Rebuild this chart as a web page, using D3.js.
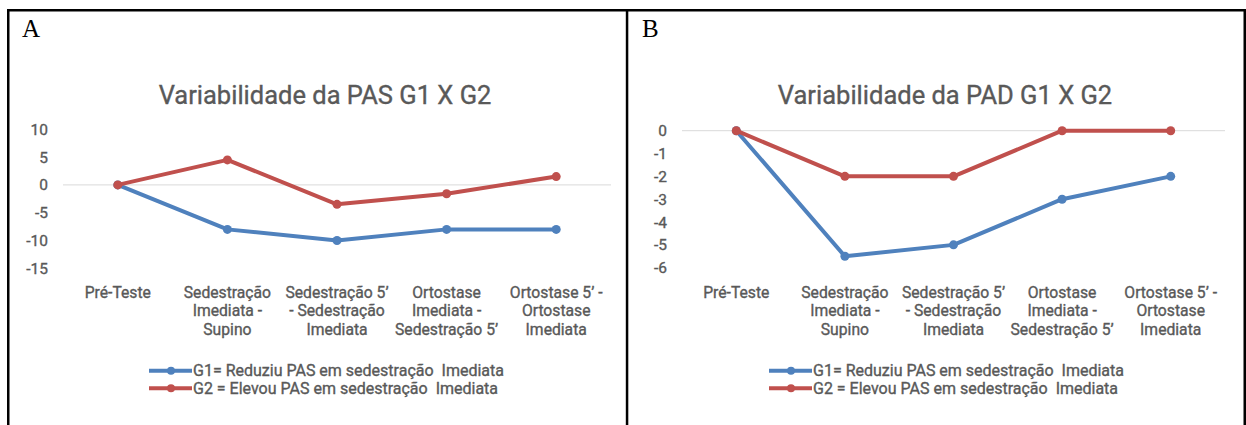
<!DOCTYPE html>
<html>
<head>
<meta charset="utf-8">
<script src="https://cdn.jsdelivr.net/npm/d3@7"></script>
<style>
  body { margin: 0; background: #fff; }
  svg { display: block; }
  text { font-family: Roboto, "Noto Sans", sans-serif; fill: #595959; }
  .chartText { stroke: #595959; stroke-width: 0.35px; }
</style>
</head>
<body>
<div id="chart"></div>
<script>
// categories (multi-line labels, as in the Excel charts)
var categories = [
  ["Pré-Teste"],
  ["Sedestração", "Imediata -", "Supino"],
  ["Sedestração 5’", "- Sedestração", "Imediata"],
  ["Ortostase", "Imediata -", "Sedestração 5’"],
  ["Ortostase 5’ -", "Ortostase", "Imediata"]
];
var seriesNames = [
  "G1= Reduziu PAS em sedestração  Imediata",
  "G2 = Elevou PAS em sedestração  Imediata"
];
var seriesColors = ["#4F81BD", "#C0504D"];

// panel A - PAS
var pasG1 = [0, -8, -10, -8, -8];
var pasG2 = [0, 4.5, -3.5, -1.6, 1.5];
var pasTicks = [10, 5, 0, -5, -10, -15];

// panel B - PAD
var padG1 = [0, -5.5, -5, -3, -2];
var padG2 = [0, -2, -2, 0, 0];
var padTicks = [0, -1, -2, -3, -4, -5, -6];

var width = 1246, height = 425;

var svg = d3.select("#chart")
  .append("svg")
  .attr("width", width)
  .attr("height", height);

// table borders (no bottom line, cut off in the source)
svg.append("rect").attr("x", 7).attr("y", 9).attr("width", 1239).attr("height", 2.5).attr("fill", "#000");
svg.append("rect").attr("x", 7).attr("y", 9).attr("width", 2.5).attr("height", 416).attr("fill", "#000");
svg.append("rect").attr("x", 625.8).attr("y", 9).attr("width", 2.5).attr("height", 416).attr("fill", "#000");
svg.append("rect").attr("x", 1243.5).attr("y", 9).attr("width", 2.5).attr("height", 416).attr("fill", "#000");

function drawPanel(px, letter, title, g1, g2, ticks, xRange, yRange) {
  var g = svg.append("g");

  g.append("text")
    .attr("x", px + 15)
    .attr("y", 36.5)
    .style("font-family", "'Liberation Serif', 'Times New Roman', serif")
    .style("font-size", "25px")
    .style("fill", "#000")
    .text(letter);

  g.append("text")
    .attr("class", "chartText")
    .attr("x", px + 318)
    .attr("y", 104)
    .attr("text-anchor", "middle")
    .style("font-size", "25.5px")
    .text(title);

  var x = d3.scaleBand()
    .domain(d3.range(categories.length))
    .range(xRange);

  var y = d3.scaleLinear()
    .domain([d3.min(ticks), d3.max(ticks)])
    .range(yRange);

  // y labels (plain hyphen, no decimals)
  var yAxis = g.append("g")
    .attr("transform", "translate(" + (xRange[0] - 15) + ",0)")
    .call(d3.axisLeft(y).tickValues(ticks).tickSize(0).tickPadding(0)
      .tickFormat(function(d) { return String(d); }));
  yAxis.select(".domain").remove();
  yAxis.selectAll("text")
    .attr("class", "chartText")
    .style("font-size", "15.5px")
    .style("fill", "#595959")
    .style("font-family", "Roboto, sans-serif");

  // zero line (category axis)
  g.append("line")
    .attr("x1", xRange[0])
    .attr("x2", xRange[1])
    .attr("y1", y(0))
    .attr("y2", y(0))
    .attr("stroke", "#d9d9d9")
    .attr("stroke-width", 1);

  // x labels
  var xl = g.selectAll(".xlab")
    .data(categories)
    .enter()
    .append("text")
    .attr("class", "xlab chartText")
    .attr("text-anchor", "middle")
    .style("font-size", "15.7px")
    .attr("transform", function(d, i) { return "translate(" + (x(i) + x.bandwidth() / 2) + ",298)"; });
  xl.selectAll("tspan")
    .data(function(d) { return d; })
    .enter()
    .append("tspan")
    .attr("x", 0)
    .attr("y", function(d, i) { return i * 18.3; })
    .text(function(d) { return d; });

  var line = d3.line()
    .x(function(d, i) { return x(i) + x.bandwidth() / 2; })
    .y(function(d) { return y(d); });

  [g1, g2].forEach(function(vals, s) {
    g.append("path")
      .datum(vals)
      .attr("d", line)
      .attr("fill", "none")
      .attr("stroke", seriesColors[s])
      .attr("stroke-width", 4)
      .attr("stroke-linejoin", "round");
    g.selectAll(".pt" + s)
      .data(vals)
      .enter()
      .append("circle")
      .attr("class", "pt" + s)
      .attr("cx", function(d, i) { return x(i) + x.bandwidth() / 2; })
      .attr("cy", function(d) { return y(d); })
      .attr("r", 4.5)
      .attr("fill", seriesColors[s]);
  });

  // legend
  var lg = g.append("g").attr("transform", "translate(" + (px + 142) + ",0)");
  seriesNames.forEach(function(name, s) {
    var ly = 370.7 + s * 17.6;
    lg.append("line")
      .attr("x1", 0).attr("x2", 43)
      .attr("y1", ly).attr("y2", ly)
      .attr("stroke", seriesColors[s])
      .attr("stroke-width", 4);
    lg.append("circle")
      .attr("cx", 22).attr("cy", ly).attr("r", 4)
      .attr("fill", seriesColors[s]);
    lg.append("text")
      .attr("class", "chartText")
      .attr("x", 44)
      .attr("y", ly + 5.5)
      .style("font-size", "16px")
      .style("white-space", "pre")
      .text(name);
  });
}

drawPanel(7, "A", "Variabilidade da PAS G1 X G2", pasG1, pasG2, pasTicks, [63, 611], [268.3, 129.3]);
drawPanel(627, "B", "Variabilidade da PAD G1 X G2", padG1, padG2, padTicks, [682, 1225], [267.7, 130.7]);
</script>
</body>
</html>
